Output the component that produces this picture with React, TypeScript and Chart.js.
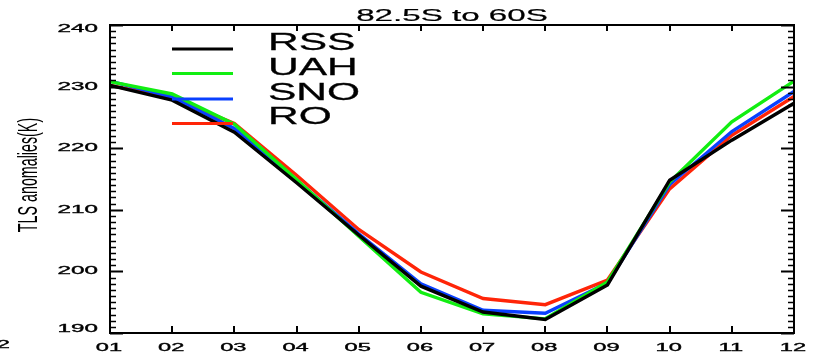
import React, { useEffect, useRef } from "react";
import { Chart, registerables } from "chart.js";

Chart.register(...registerables);

const months = ["01", "02", "03", "04", "05", "06", "07", "08", "09", "10", "11", "12"];
const rss = [230.2, 227.8, 222.6, 214.4, 205.9, 197.6, 193.4, 192.2, 197.8, 214.8, 221.3, 227.3];
const uah = [230.8, 228.8, 223.9, 214.9, 205.7, 196.6, 193.1, 192.3, 198.3, 214.5, 224.3, 230.9];
const sno = [230.9, 228.3, 223.2, 214.8, 206.1, 198.0, 193.7, 193.2, 198.1, 214.1, 222.7, 229.2];
const ro = [230.2, 228.2, 224.0, 215.6, 206.8, 199.9, 195.6, 194.6, 198.6, 213.4, 222.1, 228.4];
const seriesNames = ["RSS", "UAH", "SNO", "RO"];
const seriesColors = ["#000000", "#12ee12", "#0a40ff", "#ff2508"];
const yMin = 190;
const yMax = 240;
const yMajor = [190, 200, 210, 220, 230, 240];
const titleText = "82.5S to 60S";
const yLabel = "TLS anomalies(K)";

function stretchText(
  ctx: CanvasRenderingContext2D,
  text: string,
  x: number,
  y: number,
  font: string,
  sx: number,
  align: CanvasTextAlign,
  baseline: CanvasTextBaseline,
  stroke = 0.35
) {
  ctx.save();
  ctx.translate(x, y);
  ctx.scale(sx, 1);
  ctx.font = font;
  ctx.textAlign = align;
  ctx.textBaseline = baseline;
  ctx.fillStyle = "#000";
  ctx.fillText(text, 0, 0);
  if (stroke > 0) {
    ctx.strokeStyle = "#000";
    ctx.lineWidth = stroke;
    ctx.strokeText(text, 0, 0);
  }
  ctx.restore();
}

const decorPlugin = {
  id: "decor",
  afterDatasetsDraw(chart: any) {
    const ctx: CanvasRenderingContext2D = chart.ctx;
    const { left, right, top, bottom } = chart.chartArea;
    const xs = chart.scales.x;
    const ys = chart.scales.y;
    ctx.save();
    ctx.strokeStyle = "#000";
    ctx.lineWidth = 2;
    ctx.strokeRect(left, top, right - left, bottom - top);
    for (let v = yMin; v <= yMax; v++) {
      const py = Math.round(ys.getPixelForValue(v)) + 0.5;
      const major = v % 10 === 0;
      ctx.lineWidth = major ? 2 : 1.5;
      ctx.beginPath();
      ctx.moveTo(left, py);
      ctx.lineTo(left + (major ? 13 : 6), py);
      ctx.moveTo(right, py);
      ctx.lineTo(right - (major ? 13 : 6), py);
      ctx.stroke();
    }
    ctx.lineWidth = 2;
    months.forEach((m, i) => {
      const px = Math.round(xs.getPixelForValue(i));
      ctx.beginPath();
      ctx.moveTo(px, bottom);
      ctx.lineTo(px, bottom - 7);
      ctx.moveTo(px, top);
      ctx.lineTo(px, top + 6);
      ctx.stroke();
    });
    ctx.restore();

    const tickFont = "11px 'Liberation Sans', Arial, sans-serif";
    yMajor.forEach((v) => {
      let py = ys.getPixelForValue(v);
      py = Math.min(Math.max(py, top + 3.5), bottom - 4);
      stretchText(ctx, String(v), 98, py, tickFont, 2.2, "right", "middle");
    });
    months.forEach((m, i) => {
      const px = xs.getPixelForValue(i) - 1;
      stretchText(ctx, m, px, 351, tickFont, 2.15, "center", "alphabetic");
    });
    stretchText(ctx, months[11], 10, 347.5, tickFont, 2.15, "right", "alphabetic");

    stretchText(ctx, titleText, (left + right) / 2, 20.5, "17px 'Liberation Sans', Arial, sans-serif", 1.95, "center", "alphabetic", 0.2);

    ctx.save();
    ctx.translate(37, 175);
    ctx.rotate(-Math.PI / 2);
    ctx.scale(0.51, 1);
    ctx.font = "28px 'Liberation Sans', Arial, sans-serif";
    ctx.textAlign = "center";
    ctx.textBaseline = "alphabetic";
    ctx.fillStyle = "#000";
    ctx.fillText(yLabel, 0, 0);
    ctx.restore();

    const baselines = [50, 75, 100, 124];
    const lineYs = [49, 73.5, 99, 123.5];
    seriesNames.forEach((name, i) => {
      ctx.save();
      ctx.strokeStyle = seriesColors[i];
      ctx.lineWidth = 3.2;
      ctx.beginPath();
      ctx.moveTo(172, lineYs[i]);
      ctx.lineTo(233, lineYs[i]);
      ctx.stroke();
      ctx.restore();
      stretchText(ctx, name, 268, baselines[i], "24px 'Liberation Sans', Arial, sans-serif", 1.77, "left", "alphabetic", 0.3);
    });
  },
};

export default function App() {
  const ref = useRef<HTMLCanvasElement>(null);
  useEffect(() => {
    if (!ref.current) return;
    const allData = [rss, uah, sno, ro];
    const chart = new Chart(ref.current, {
      type: "line",
      data: {
        labels: months,
        datasets: allData.map((d, i) => ({
          label: seriesNames[i],
          data: d,
          borderColor: seriesColors[i],
          backgroundColor: seriesColors[i],
          borderWidth: 3.4,
          pointRadius: 0,
          tension: 0,
          fill: false,
        })),
      },
      options: {
        responsive: false,
        animation: false,
        layout: { padding: { left: 110, top: 25, right: 21, bottom: 28 } },
        plugins: {
          legend: { display: false },
          title: { display: false },
          tooltip: { enabled: false },
        },
        scales: {
          x: {
            type: "category",
            offset: false,
            grid: { display: false, drawTicks: false },
            border: { display: false },
            ticks: { display: false },
          },
          y: {
            min: yMin,
            max: yMax,
            grid: { display: false, drawTicks: false },
            border: { display: false },
            ticks: { display: false },
          },
        },
      },
      plugins: [decorPlugin],
    });
    return () => chart.destroy();
  }, []);
  return (
    <div style={{ position: "fixed", left: 0, top: 0, width: 815, height: 361, background: "#fff" }}>
      <canvas ref={ref} width={815} height={361} style={{ display: "block" }} />
    </div>
  );
}
